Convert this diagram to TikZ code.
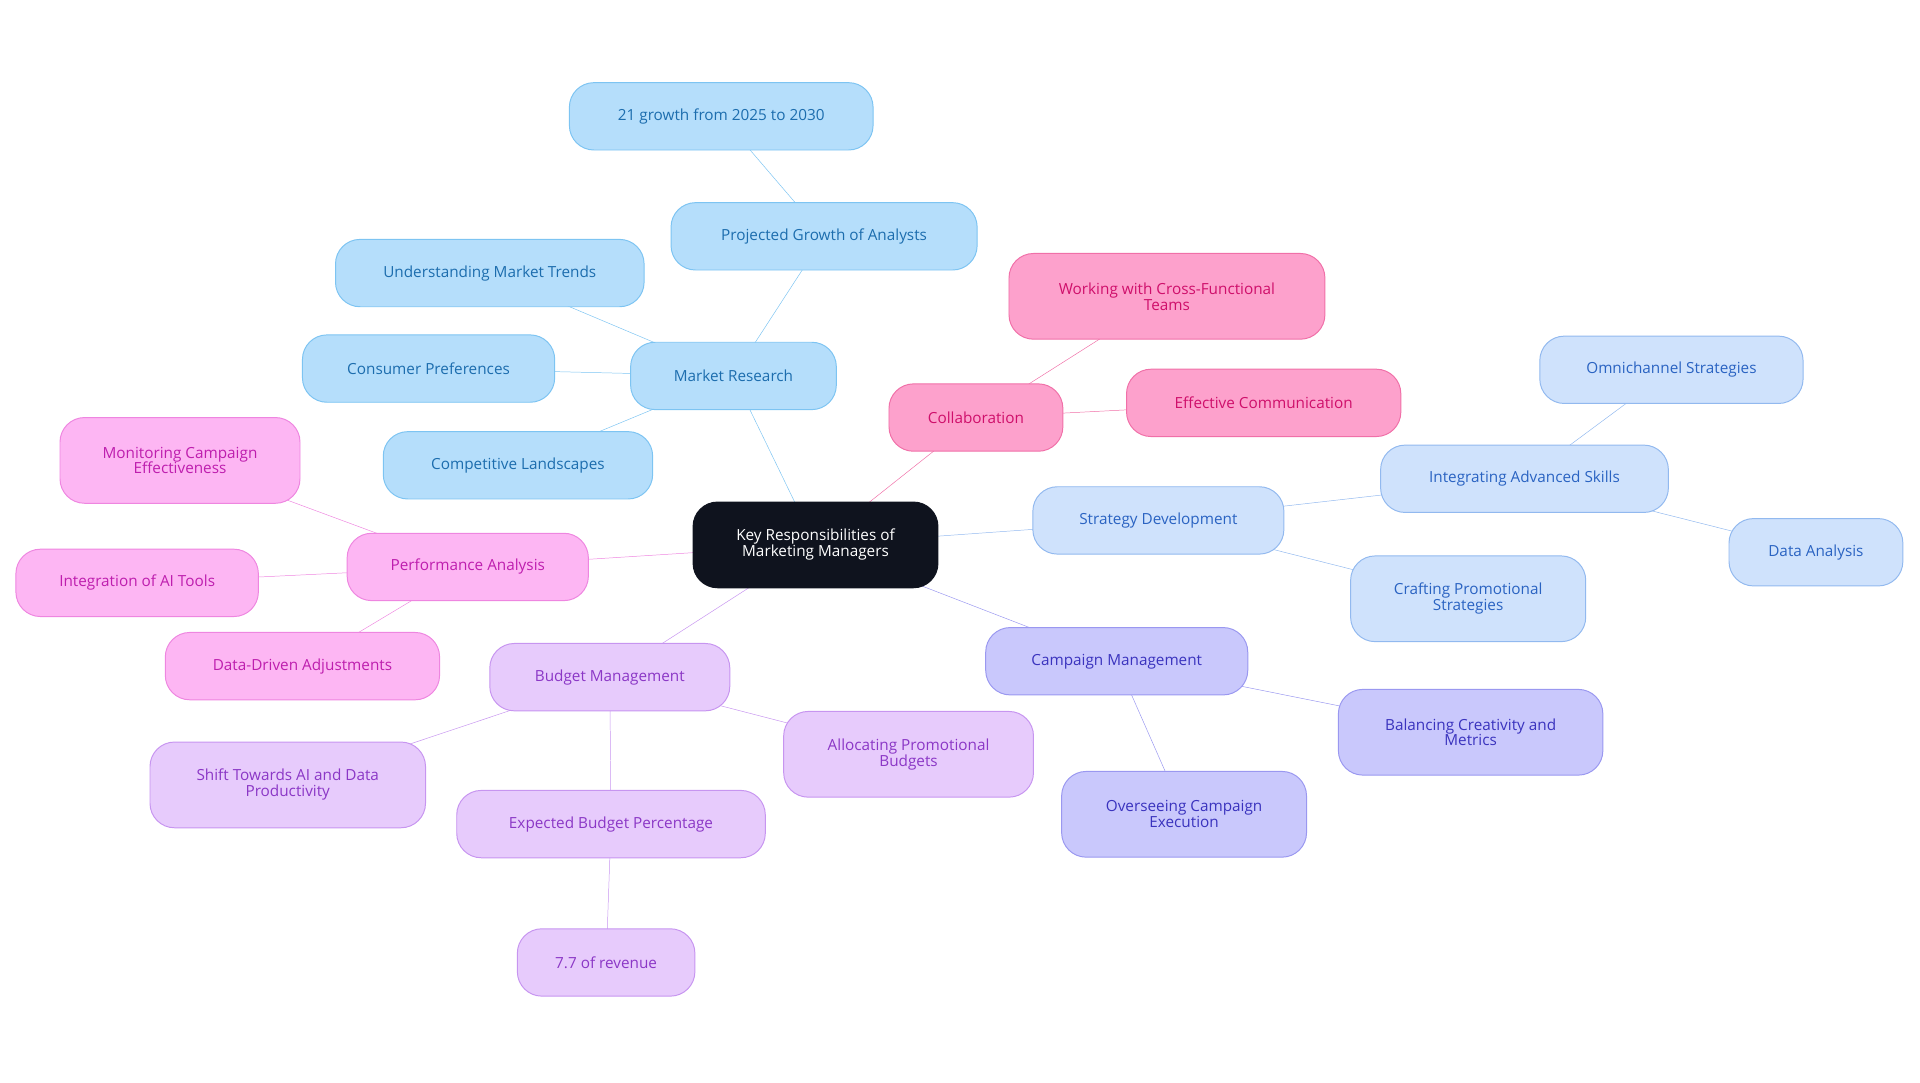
\documentclass[tikz,border=0pt]{standalone}
\usepackage{fontspec}
\setmainfont{Open Sans}
\usetikzlibrary{backgrounds}
\definecolor{mrF}{HTML}{B5DEFB}\definecolor{mrD}{HTML}{7DC4F2}\definecolor{mrT}{HTML}{1C6DAE}
\definecolor{sdF}{HTML}{CFE2FC}\definecolor{sdD}{HTML}{92B9EF}\definecolor{sdT}{HTML}{2A63C2}
\definecolor{cmF}{HTML}{C9C8FC}\definecolor{cmD}{HTML}{9A98F0}\definecolor{cmT}{HTML}{3A33BE}
\definecolor{bmF}{HTML}{E7CBFC}\definecolor{bmD}{HTML}{C795F0}\definecolor{bmT}{HTML}{8B37C6}
\definecolor{paF}{HTML}{FDB6F3}\definecolor{paD}{HTML}{EE86E0}\definecolor{paT}{HTML}{BE1EAE}
\definecolor{coF}{HTML}{FDA1CC}\definecolor{coD}{HTML}{F070A8}\definecolor{coT}{HTML}{CF0F6B}
\definecolor{rootF}{HTML}{0F131E}
\tikzset{
 box/.style={rounded corners=20pt,minimum height=55pt,align=center,font=\fontsize{12.5}{13}\selectfont,line width=0.8pt,inner sep=2pt},
 smr/.style={box,fill=mrF,draw=mrD,text=mrT},
 ssd/.style={box,fill=sdF,draw=sdD,text=sdT},
 scm/.style={box,fill=cmF,draw=cmD,text=cmT},
 sbm/.style={box,fill=bmF,draw=bmD,text=bmT},
 spa/.style={box,fill=paF,draw=paD,text=paT},
 sco/.style={box,fill=coF,draw=coD,text=coT},
 tall/.style={minimum height=70pt},
 ed/.style={line width=1.6pt}
}
\begin{document}
\begin{tikzpicture}[x=1pt,y=-1pt]
\useasboundingbox (0,0) rectangle (1568,884);
\node[box,tall,fill=rootF,draw=rootF,text=white,minimum width=200pt] (root) at (666,445) {Key Responsibilities of\\Marketing Managers};
\node[smr,minimum width=168pt] (mr) at (599,307) {Market Research};
\node[smr,minimum width=250pt] (pg) at (673,193) {Projected Growth of Analysts};
\node[smr,minimum width=248pt] (g21) at (589,95) {21 growth from 2025 to 2030};
\node[smr,minimum width=252pt] (umt) at (400,223) {Understanding Market Trends};
\node[smr,minimum width=206pt] (cp) at (350,301) {Consumer Preferences};
\node[smr,minimum width=220pt] (cl) at (423,380) {Competitive Landscapes};
\node[sco,minimum width=142pt] (co) at (797,341) {Collaboration};
\node[sco,tall,minimum width=258pt] (wc) at (953,242) {Working with Cross-Functional\\Teams};
\node[sco,minimum width=224pt] (ec) at (1032,329) {Effective Communication};
\node[ssd,minimum width=205pt] (sd) at (946,425) {Strategy Development};
\node[ssd,minimum width=235pt] (ia) at (1245,391) {Integrating Advanced Skills};
\node[ssd,minimum width=215pt] (om) at (1365,302) {Omnichannel Strategies};
\node[ssd,minimum width=142pt] (da) at (1483,451) {Data Analysis};
\node[ssd,tall,minimum width=192pt] (cr) at (1199,489) {Crafting Promotional\\Strategies};
\node[scm,minimum width=214pt] (cm) at (912,540) {Campaign Management};
\node[scm,tall,minimum width=216pt] (bc) at (1201,598) {Balancing Creativity and\\Metrics};
\node[scm,tall,minimum width=200pt] (oc) at (967,665) {Overseeing Campaign\\Execution};
\node[sbm,minimum width=196pt] (bm) at (498,553) {Budget Management};
\node[sbm,tall,minimum width=204pt] (ap) at (742,616) {Allocating Promotional\\Budgets};
\node[sbm,tall,minimum width=225pt] (sh) at (235,641) {Shift Towards AI and Data\\Productivity};
\node[sbm,minimum width=252pt] (eb) at (499,673) {Expected Budget Percentage};
\node[sbm,minimum width=145pt] (r7) at (495,786) {7.7 of revenue};
\node[spa,minimum width=197pt] (pa) at (382,463) {Performance Analysis};
\node[spa,tall,minimum width=196pt] (mo) at (147,376) {Monitoring Campaign\\Effectiveness};
\node[spa,minimum width=198pt] (ai) at (112,476) {Integration of AI Tools};
\node[spa,minimum width=224pt] (dd) at (247,544) {Data-Driven Adjustments};
\begin{scope}[on background layer,ed]
\draw[mrD] (root.center)--(mr.center) (mr.center)--(pg.center) (pg.center)--(g21.center) (mr.center)--(umt.center) (mr.center)--(cp.center) (mr.center)--(cl.center);
\draw[coD] (root.center)--(co.center) (co.center)--(wc.center) (co.center)--(ec.center);
\draw[sdD] (root.center)--(sd.center) (sd.center)--(ia.center) (ia.center)--(om.center) (ia.center)--(da.center) (sd.center)--(cr.center);
\draw[cmD] (root.center)--(cm.center) (cm.center)--(bc.center) (cm.center)--(oc.center);
\draw[bmD] (root.center)--(bm.center) (bm.center)--(ap.center) (bm.center)--(sh.center) (bm.center)--(eb.center) (eb.center)--(r7.center);
\draw[paD] (root.center)--(pa.center) (pa.center)--(mo.center) (pa.center)--(ai.center) (pa.center)--(dd.center);
\end{scope}
\end{tikzpicture}
\end{document}
